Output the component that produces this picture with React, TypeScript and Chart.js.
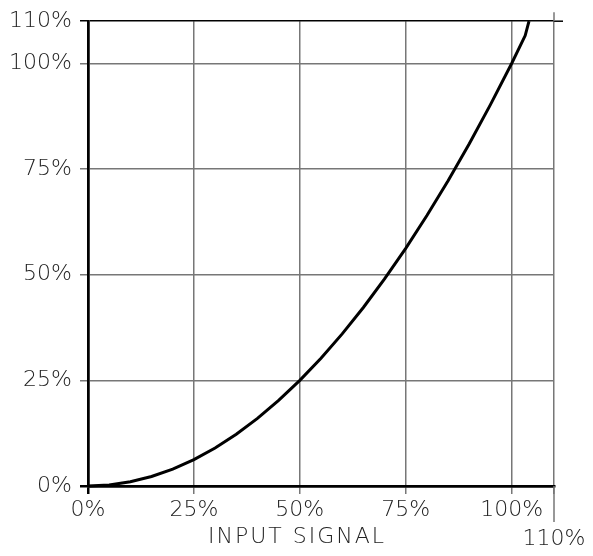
import React, { useEffect, useRef } from "react";
import { Chart, registerables } from "chart.js";

Chart.register(...registerables);

const inputPct = [0, 5, 10, 15, 20, 25, 30, 35, 40, 45, 50, 55, 60, 65, 70, 75, 80, 85, 90, 95, 100, 103.2, 104.1];
const outputPct = [0, 0.25, 1, 2.25, 4, 6.25, 9, 12.25, 16, 20.25, 25, 30.25, 36, 42.25, 49, 56.25, 64, 72.25, 81, 90.25, 100, 106.6, 110];
const xTicks = [0, 25, 50, 75, 100, 110];
const yTicks = [0, 25, 50, 75, 100, 110];
const xTitle = "INPUT SIGNAL";

const FONT = "'DejaVu Sans', sans-serif";

export default function App() {
  const ref = useRef<HTMLCanvasElement>(null);
  useEffect(() => {
    if (!ref.current) return;
    const extras = {
      id: "extras",
      afterDraw(chart: any) {
        const { ctx, chartArea } = chart;
        const xs = chart.scales.x;
        const x110 = xs.getPixelForValue(110);
        ctx.save();
        ctx.strokeStyle = "#000";
        ctx.lineWidth = 1.5;
        ctx.beginPath();
        ctx.moveTo(chartArea.right, chartArea.top);
        ctx.lineTo(chartArea.right + 9, chartArea.top);
        ctx.stroke();
        ctx.strokeStyle = "#777";
        ctx.lineWidth = 1.5;
        ctx.beginPath();
        ctx.moveTo(x110, chartArea.top - 9);
        ctx.lineTo(x110, chartArea.top);
        ctx.moveTo(x110, chartArea.bottom);
        ctx.lineTo(x110, chartArea.bottom + 36);
        ctx.stroke();
        ctx.fillStyle = "#222";
        ctx.font = `200 22px ${FONT}`;
        (ctx as any).letterSpacing = "2px";
        ctx.textAlign = "left";
        ctx.textBaseline = "middle";
        ctx.fillText(xTitle, 208, 537);
        ctx.restore();
      },
    };
    const chart = new Chart(ref.current, {
      type: "line",
      data: {
        datasets: [
          {
            data: inputPct.map((x, i) => ({ x, y: outputPct[i] })),
            borderColor: "#000",
            borderWidth: 3,
            pointRadius: 0,
            tension: 0,
            fill: false,
            clip: false as any,
          },
        ],
      },
      options: {
        animation: false,
        responsive: false,
        layout: { padding: { top: 19, right: 39, left: 0, bottom: 0 } },
        plugins: { legend: { display: false }, tooltip: { enabled: false } },
        scales: {
          x: {
            type: "linear",
            min: 0,
            max: 110,
            afterBuildTicks: (s: any) => {
              s.ticks = xTicks.map((v) => ({ value: v }));
            },
            afterFit: (s: any) => {
              s.height = 70;
            },
            ticks: {
              autoSkip: false,
              maxRotation: 0,
              padding: 2,
              color: "#222",
              font: { family: FONT, size: 22, weight: "200" as any, lineHeight: 1.3 },
              callback: (v: any) => (v === 110 ? ["", "110%"] : v + "%"),
            },
            border: { display: true, color: "#000", width: 2.5 },
            grid: {
              color: (c: any) => (c.tick && c.tick.value === 0 ? "#000" : "#777"),
              lineWidth: (c: any) => (c.tick && c.tick.value === 0 ? 2.5 : 1.5),
              tickLength: 8,
              drawTicks: true,
            },
          },
          y: {
            type: "linear",
            min: 0,
            max: 110,
            afterBuildTicks: (s: any) => {
              s.ticks = yTicks.map((v) => ({ value: v }));
            },
            afterFit: (s: any) => {
              s.width = 88;
            },
            ticks: {
              autoSkip: false,
              padding: 8,
              color: "#222",
              font: { family: FONT, size: 22, weight: "200" as any },
              callback: (v: any) => v + "%",
            },
            border: { display: true, color: "#000", width: 2.5 },
            grid: {
              color: (c: any) => (c.tick && (c.tick.value === 0 || c.tick.value === 110) ? "#000" : "#777"),
              lineWidth: (c: any) => (c.tick && c.tick.value === 0 ? 2.5 : 1.5),
              tickLength: 8,
              drawTicks: true,
            },
          },
        },
      },
      plugins: [extras],
    });
    return () => chart.destroy();
  }, []);
  return (
    <div style={{ position: "fixed", left: 0, top: 0, width: 593, height: 556, background: "#fff" }}>
      <canvas ref={ref} width={593} height={556} style={{ width: 593, height: 556 }} />
    </div>
  );
}
